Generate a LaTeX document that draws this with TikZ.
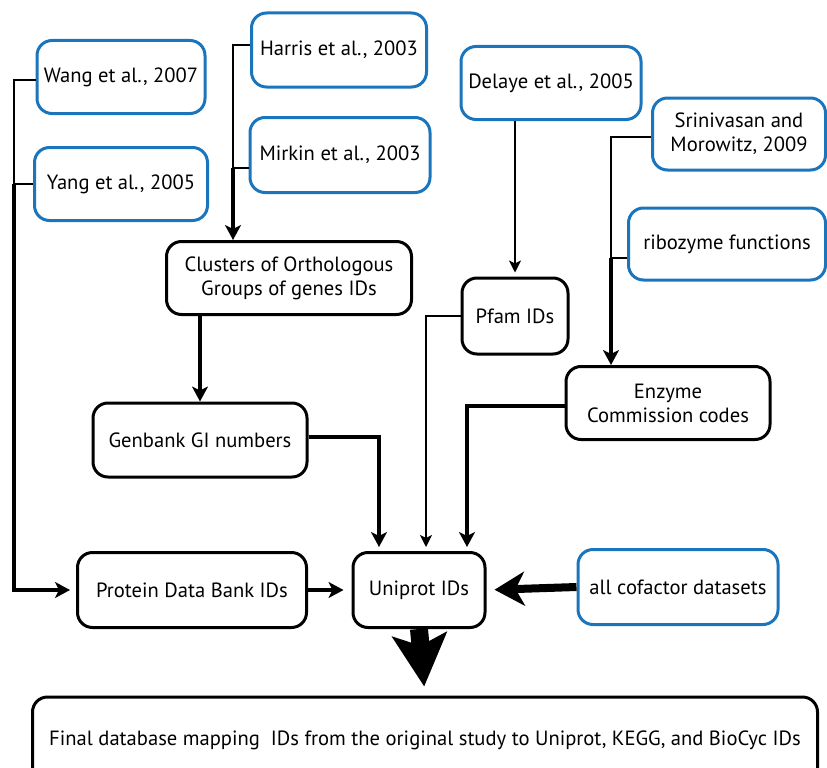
\documentclass[tikz,border=0pt]{standalone}
\usepackage{fontspec}
\setmainfont{PT Sans}
\usetikzlibrary{arrows.meta}
\definecolor{refblue}{RGB}{27,117,188}

\begin{document}
\begin{tikzpicture}[x=1pt,y=-1pt,
  src/.style={draw=refblue,line width=3pt,rounded corners=15pt,align=center,
    inner sep=0pt,font=\fontsize{20.6}{24}\selectfont},
  ids/.style={src,draw=black},
  link/.style={line width=1.6pt},
  feed/.style={line width=3.4pt},
  tipsm/.style={-{Stealth[length=12pt,width=12pt,inset=3pt]},shorten >=4pt},
  tipbig/.style={-{Stealth[length=15pt,width=16pt,inset=4pt]},shorten >=4pt}]
\path[use as bounding box,clip] (0,0) rectangle (827,768);

\node[src,minimum width=168,minimum height=73] (wang) at (121,77) {Wang et al., 2007};
\node[src,minimum width=173,minimum height=73] (yang) at (121,184) {Yang et al., 2005};
\node[src,minimum width=175,minimum height=74] (harris) at (339,50) {Harris et al., 2003};
\node[src,minimum width=180,minimum height=75] (mirkin) at (340,155) {Mirkin et al., 2003};
\node[src,minimum width=180,minimum height=73] (delaye) at (551,83) {Delaye et al., 2005};
\node[src,minimum width=173,minimum height=72] (srini) at (739,134) {Srinivasan and\\Morowitz, 2009};
\node[src,minimum width=197,minimum height=72] (ribo) at (727,244) {ribozyme functions};
\node[src,minimum width=200,minimum height=75] (cof) at (678,587) {all cofactor datasets};

\node[ids,minimum width=245,minimum height=73] (cog) at (289,278) {Clusters of Orthologous\\Groups of genes IDs};
\node[ids,minimum width=106,minimum height=76] (pfam) at (515,316) {Pfam IDs};
\node[ids,minimum width=214,minimum height=74] (genbank) at (200,440) {Genbank GI numbers};
\node[ids,minimum width=204,minimum height=73] (enzyme) at (668,403) {Enzyme\\Commission codes};
\node[ids,minimum width=229,minimum height=75] (pdb) at (192,590) {Protein Data Bank IDs};
\node[ids,minimum width=132,minimum height=75] (uni) at (419,590) {Uniprot IDs};
\node[ids,minimum width=785,minimum height=86] (final) at (425,740)
  {Final database mapping\ \ IDs from the original study to Uniprot, KEGG, and BioCyc IDs};

\coordinate (lbus) at (14,0);
\coordinate (mbus) at (233,0);
\coordinate (ebus) at (611,0);

\draw[link] ([yshift=-3pt]wang.west) -| (yang.west -| lbus) -- (yang.west);
\draw[feed,tipbig,shorten >=6pt] (yang.west -| lbus) |- (pdb.west);

\draw[link] ([yshift=5pt]harris.west) -| ([yshift=-13pt]mirkin.west -| mbus) -- ([yshift=-13pt]mirkin.west);
\draw[feed,tipbig,shorten >=0pt] ([yshift=-13pt]mirkin.west -| mbus) -- (cog.north -| mbus);

\draw[link,tipsm] (pfam.north |- delaye.south) -- (pfam.north);

\draw[link] ([yshift=-3pt]srini.west) -| ([yshift=-14pt]ribo.west -| ebus) -- ([yshift=-14pt]ribo.west);
\draw[feed,tipbig,shorten >=0pt] ([yshift=-14pt]ribo.west -| ebus) -- (enzyme.north -| ebus);

\draw[feed,tipbig,shorten >=0pt] (cog.south -| genbank.north) -- (genbank.north);
\draw[feed,tipbig] ([yshift=3pt]genbank.east) -| ([xshift=-40pt]uni.north);
\draw[link,tipsm] (pfam.west) -| ([xshift=7pt]uni.north);
\draw[feed,tipbig] ([yshift=-3pt]enzyme.west) -| ([xshift=48pt]uni.north);
\draw[feed,tipbig,shorten >=8pt] (pdb.east) -- (uni.west);

\draw[line width=8pt,-{Stealth[length=30pt,width=34pt,inset=9pt]},shorten >=8pt] (cof.west) -- (uni.east);
\draw[line width=18pt,-{Stealth[length=52pt,width=54pt,inset=11pt]},shorten >=9pt] (uni.south) -- (final.north);
\end{tikzpicture}
\end{document}
